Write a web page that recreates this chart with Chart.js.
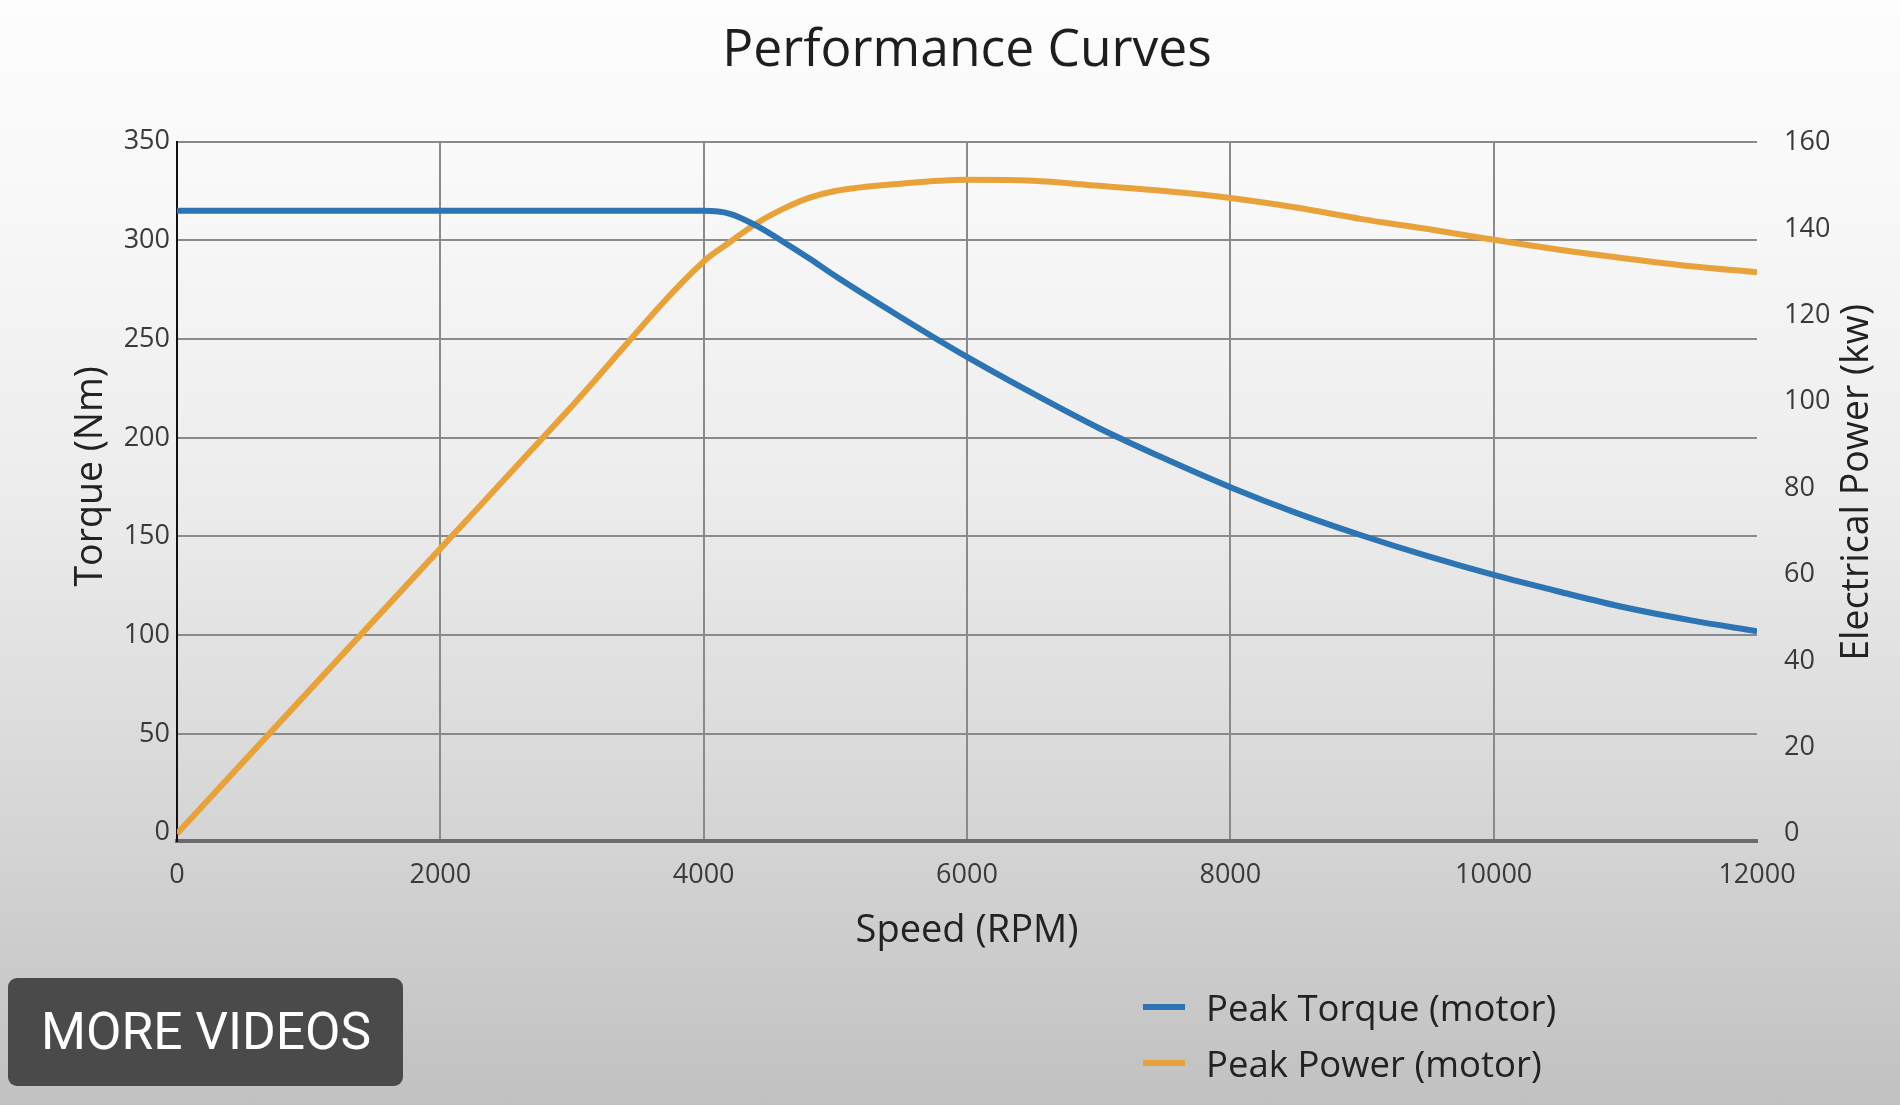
<!DOCTYPE html>
<html>
<head>
<meta charset="utf-8">
<title>Performance Curves</title>
<script src="https://cdn.jsdelivr.net/npm/chart.js@4.4.1/dist/chart.umd.min.js"></script>
<style>
  html, body { margin: 0; padding: 0; }
  body {
    width: 1900px; height: 1105px; overflow: hidden; position: relative;
    background: linear-gradient(to bottom, #fdfdfd 0%, #f8f8f8 18%, #ececec 45%, #d9d9d9 70%, #c1c1c1 100%);
    font-family: "Open Sans", sans-serif;
  }
  #chart { position: absolute; left: 0; top: 0; }
  #legend { position: absolute; left: 1143px; top: 979px; }
  .item { display: flex; align-items: center; height: 56px; font-size: 36.5px; color: #222; }
  .swatch { width: 42px; height: 6px; margin-right: 21px; }
  #more {
    position: absolute; left: 8px; top: 978px; width: 395px; height: 108px;
    background: #4a4a4a; border-radius: 9px; color: #fff;
    font-family: Roboto, sans-serif; font-size: 51.5px; line-height: 108px;
    padding-left: 33px; box-sizing: border-box;
  }
</style>
</head>
<body>
<canvas id="chart" width="1900" height="1105"></canvas>
<div id="legend"></div>
<div id="more">MORE VIDEOS</div>
<script>
// tick labels
const speedTicks = [0, 2000, 4000, 6000, 8000, 10000, 12000];
const torqueTicks = [0, 50, 100, 150, 200, 250, 300, 350];
const powerTicks = [0, 20, 40, 60, 80, 100, 120, 140, 160];

// peak torque (Nm) vs speed (rpm)
const torqueRpm = [0, 1000, 2000, 3000, 4000, 4200, 4400, 4600, 4800, 5000, 5500, 6000, 6500, 7000, 7500, 8000, 8500, 9000, 9500, 10000, 10500, 11000, 11500, 12000];
const torqueNm = [315, 315, 315, 315, 315, 313.5, 307.5, 299.5, 291, 282, 261, 241, 222.5, 205, 189.5, 175, 162, 150.5, 140, 130.5, 122, 114, 107.5, 102];

// peak power (kW) vs speed (rpm)
const powerRpm = [0, 1000, 2000, 3000, 4000, 4200, 4400, 4600, 4800, 5000, 5500, 6000, 6500, 7000, 7500, 8000, 8500, 9000, 9500, 10000, 10500, 11000, 11500, 12000];
const powerKw = [0, 33, 66, 99, 132.5, 137, 141.3, 144.6, 147.2, 148.8, 150.5, 151.4, 151.2, 150, 148.8, 147.2, 145, 142.3, 140, 137.5, 135.2, 133.2, 131.4, 130];

const seriesNames = ["Peak Torque (motor)", "Peak Power (motor)"];
const seriesColors = ["#2d74b5", "#e8a23c"];

const toPoints = (xs, ys) => xs.map((x, i) => ({ x: x, y: ys[i] }));
const fixTicks = (list) => (scale) => { scale.ticks = list.map(v => ({ value: v })); };

Chart.defaults.font.family = '"Open Sans", sans-serif';

// y axis titles, both read bottom-to-top
const yTitles = {
  id: "yTitles",
  afterDraw(chart) {
    const { ctx, chartArea } = chart;
    const midY = (chartArea.top + chartArea.bottom) / 2;
    ctx.save();
    ctx.font = '37.5px "Open Sans"';
    ctx.fillStyle = "#222";
    ctx.textAlign = "center";
    ctx.textBaseline = "middle";
    [[chart.scales.yT.left + 91, midY - 15, "Torque (Nm)"],
     [chart.scales.yP.right - 43, midY - 9, "Electrical Power (kw)"]].forEach(([x, y, t]) => {
      ctx.save();
      ctx.translate(x, y);
      ctx.rotate(-Math.PI / 2);
      ctx.fillText(t, 0, 0);
      ctx.restore();
    });
    ctx.restore();
  }
};

const chart = new Chart(document.getElementById("chart"), {
  type: "line",
  data: {
    datasets: [
      {
        label: seriesNames[0],
        data: toPoints(torqueRpm, torqueNm),
        yAxisID: "yT",
        borderColor: seriesColors[0],
        borderWidth: 6,
        pointRadius: 0,
        cubicInterpolationMode: "monotone"
      },
      {
        label: seriesNames[1],
        data: toPoints(powerRpm, powerKw),
        yAxisID: "yP",
        borderColor: seriesColors[1],
        borderWidth: 6,
        pointRadius: 0,
        cubicInterpolationMode: "monotone"
      }
    ]
  },
  options: {
    responsive: false,
    animation: false,
    devicePixelRatio: 1,
    layout: { padding: 0 },
    plugins: {
      legend: { display: false },
      tooltip: { enabled: false },
      title: {
        display: true,
        fullSize: false,
        text: "Performance Curves",
        color: "#1e1e1e",
        font: { size: 51.5, weight: "normal" },
        padding: { top: 20, bottom: 60 }
      }
    },
    scales: {
      x: {
        type: "linear",
        min: 0,
        max: 12000,
        afterBuildTicks: fixTicks(speedTicks),
        afterFit: (s) => { s.height = 264; },
        grid: {
          drawTicks: false,
          lineWidth: 2,
          color: (c) => (c.tick && (c.tick.value === 0 || c.tick.value === 12000)) ? "rgba(0,0,0,0)" : "#8a8a8a"
        },
        border: { color: "#6c6c6c", width: 4 },
        ticks: { color: "#3a3a3a", font: { size: 27 }, padding: 18, maxRotation: 0, callback: (v) => String(v) },
        title: {
          display: true,
          text: "Speed (RPM)",
          color: "#222",
          font: { size: 38 },
          padding: { top: 0, bottom: 151 }
        }
      },
      yT: {
        type: "linear",
        position: "left",
        min: -4.3,
        max: 350,
        afterBuildTicks: fixTicks(torqueTicks),
        afterFit: (s) => { s.width = 177; },
        grid: {
          drawTicks: false,
          lineWidth: 2,
          color: (c) => (c.tick && c.tick.value === 0) ? "rgba(0,0,0,0)" : "#8a8a8a"
        },
        border: { color: "#111", width: 2 },
        ticks: { color: "#3a3a3a", font: { size: 27 }, padding: 7, callback: (v) => String(v) }
      },
      yP: {
        type: "linear",
        position: "right",
        min: -1.7,
        max: 160.2,
        afterBuildTicks: fixTicks(powerTicks),
        afterFit: (s) => { s.width = 143; },
        grid: { display: false, drawOnChartArea: false },
        border: { display: false },
        ticks: { color: "#3a3a3a", font: { size: 27 }, padding: 19, callback: (v) => String(v) }
      }
    }
  },
  plugins: [yTitles]
});

// legend built from the chart's datasets
const legend = document.getElementById("legend");
chart.data.datasets.forEach((ds) => {
  const row = document.createElement("div");
  row.className = "item";
  const sw = document.createElement("span");
  sw.className = "swatch";
  sw.style.background = ds.borderColor;
  const label = document.createElement("span");
  label.textContent = ds.label;
  row.appendChild(sw);
  row.appendChild(label);
  legend.appendChild(row);
});
</script>
</body>
</html>
